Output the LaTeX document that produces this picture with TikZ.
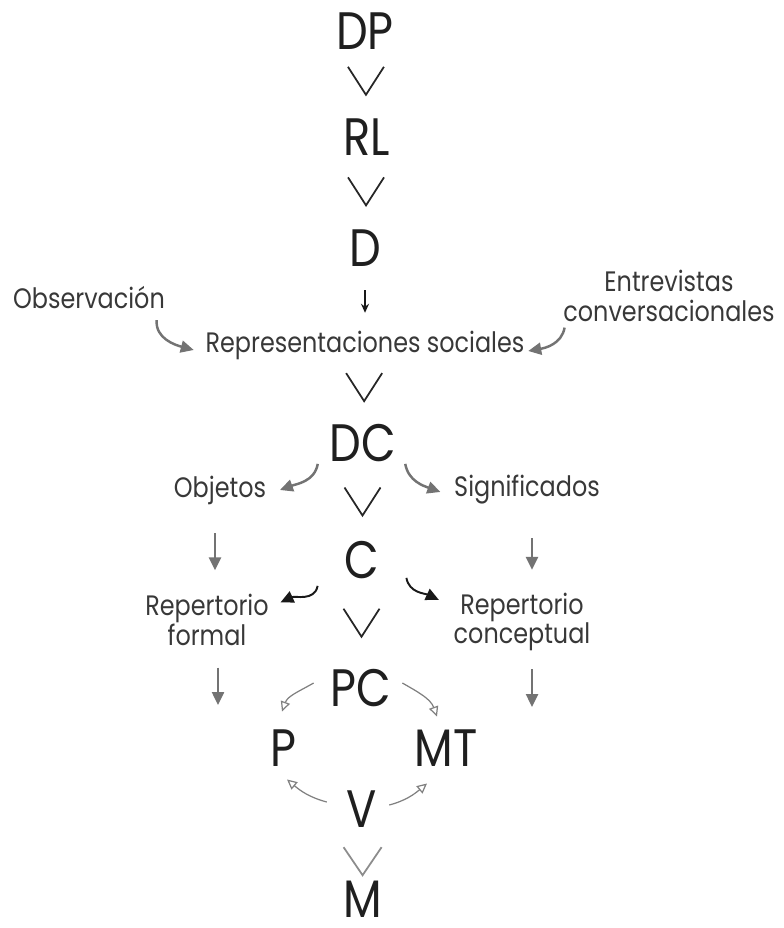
\documentclass[tikz,border=0pt]{standalone}
\usepackage{fontspec}
\setmainfont{Poppins}[FakeStretch=0.85]
\usetikzlibrary{arrows.meta,calc}

\begin{document}
\begin{tikzpicture}[
    x=0.02cm, y=0.02cm,
    big/.style={font=\fontsize{30}{30}\selectfont, text=black!88, inner sep=1pt},
    lbl/.style={font=\fontsize{16}{17}\selectfont, text=black!78, inner sep=2pt, align=center},
    chev/.style={line width=1pt, black!85},
    ga/.style={-{Triangle[length=2.6mm,width=2.4mm]}, line width=1.4pt, black!55},
    ba/.style={-{Triangle[length=2.6mm,width=2.4mm]}, line width=1.1pt, black!90},
    oa/.style={-{Triangle[open,length=2mm,width=1.9mm]}, line width=0.7pt, black!50},
  ]
  \useasboundingbox (0,0) rectangle (783,-928);
  % main column
  \node[big] (dp) at (365,-31) {DP};
  \node[big] (rl) at (367,-137) {RL};
  \node[big] (d) at (365,-248) {D};
  \node[lbl] (rep) at (365,-345) {Representaciones sociales};
  \node[big] (dc) at (363,-443) {DC};
  \node[big] (c) at (362,-560) {C};
  \node[big] (pc) at (361,-688) {PC};
  \node[big] (p) at (283,-748) {P};
  \node[big] (mt) at (446,-748) {MT};
  \node[big] (v) at (362,-809) {V};
  \node[big] (m) at (363,-899) {M};
  % side labels
  \node[lbl] (obs) at (89,-298) {Observación};
  \node[lbl] (ent) at (669,-296) {Entrevistas\\conversacionales};
  \node[lbl] (obj) at (220,-490) {Objetos};
  \node[lbl] (sig) at (527,-490) {Significados};
  \node[lbl] (repf) at (207,-620) {Repertorio\\formal};
  \node[lbl] (repc) at (522,-622) {Repertorio\\conceptual};
  \coordinate (fend) at (218,-705);
  \coordinate (cend) at (532,-707);

  % chevrons
  \foreach \a/\b/\f in {dp/rl/0.47, rl/d/0.49, rep/dc/0.43, dc/c/0.5, c/pc/0.49}
    \draw[chev] ($(\a)!\f!(\b)$) +(-18,14) -- +(0,-14) -- +(18,14);
  \draw[chev, black!45] ($(v)!0.58!(m)$) +(-19,14) -- +(0,-14) -- +(19,14);

  % arrows
  \draw[-{Stealth[length=1.8mm,width=1.6mm]}, line width=0.9pt, black!90,
        shorten <=0.44cm, shorten >=0.28cm] (d) -- (rep);
  \draw[ga] ([shift={(-12,-7)}]obs.south east) to[out=-95,in=165] ([shift={(-8,-5)}]rep.west);
  \draw[ga] ([shift={(5,-2)}]ent.south west) to[out=-100,in=10] ([shift={(0,-6)}]rep.east);
  \draw[ga] ([shift={(-10,0)}]dc.south west) to[out=-100,in=20] ([shift={(10,0)}]obj.east);
  \draw[ga] ([shift={(7,0)}]dc.south east) to[out=-80,in=160] ([shift={(-10,-2)}]sig.west);
  \draw[ga, shorten <=0.5cm, shorten >=0.4cm] ([shift={(-5,0)}]obj.south) -- ([shift={(-5,0)}]obj.south |- repf.north);
  \draw[ga, shorten <=0.6cm, shorten >=0.38cm] ([shift={(5,0)}]sig.south) -- ([shift={(5,0)}]sig.south |- repc.north);
  \draw[ba] ([shift={(-25,-5)}]c.south west) to[out=-100,in=25] ([shift={(8,-12)}]repf.north east);
  \draw[ba] ([shift={(25,3)}]c.south east) to[out=-80,in=155] ([shift={(-11,-11)}]repc.north west);
  \draw[ga] (repf.south -| fend) ++(0,-18) -- (fend);
  \draw[ga] (repc.south -| cend) ++(0,-14) -- (cend);
  \draw[oa] ([shift={(-15,5)}]pc.west) to[out=-150,in=70] ([shift={(-1,16)}]p.north);
  \draw[oa] ([shift={(9,5)}]pc.east) to[out=-30,in=110] ([shift={(-9,11)}]mt.north);
  \draw[oa] ([shift={(-18,7)}]v.west) to[out=165,in=-40] ([shift={(4,-11)}]p.south);
  \draw[oa] ([shift={(10,4)}]v.east) to[out=15,in=-140] ([shift={(-19,-15)}]mt.south);
\end{tikzpicture}
\end{document}
